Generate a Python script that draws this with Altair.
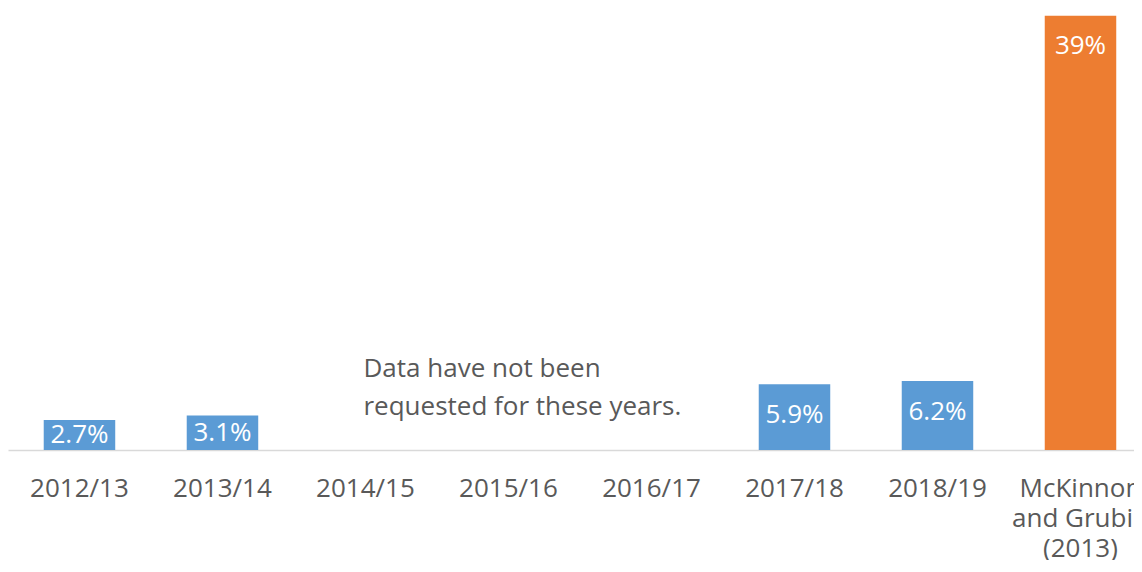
import altair as alt
import pandas as pd

categories = ["2012/13", "2013/14", "2014/15", "2015/16", "2016/17",
              "2017/18", "2018/19", "McKinnon and Grubin (2013)"]
values = [2.7, 3.1, None, None, None, 5.9, 6.2, 39]
labels = ["2.7%", "3.1%", "", "", "", "5.9%", "6.2%", "39%"]
groups = ["survey", "survey", "survey", "survey", "survey", "survey", "survey", "study"]

note_lines = ["Data have not been", "requested for these years."]
note_category = "2014/15"
note_level = 7.3

df = pd.DataFrame({"category": categories, "value": values,
                   "label": labels, "group": groups})
df_bars = df.dropna(subset=["value"])
note_df = pd.DataFrame({"category": [note_category], "level": [note_level],
                        "text": [note_lines]})

FONT = "Open Sans"
GRAY = "#595959"

xscale = alt.Scale(domain=categories, paddingInner=0.5,
                   paddingOuter=0.187, align=0.668)
xaxis = alt.Axis(title=None, labelAngle=0, ticks=False,
                 labelPadding=25, labelFontSize=26, labelFont=FONT,
                 labelColor=GRAY, labelLineHeight=30,
                 labelOverlap=False, labelFlush=False,
                 domainColor="#d9d9d9", domainWidth=1.5,
                 labelExpr="datum.value == 'McKinnon and Grubin (2013)' ? ['McKinnon', 'and Grubin', '(2013)'] : datum.value")


def xenc():
    return alt.X("category:N", scale=xscale, sort=categories, axis=xaxis)


yscale = alt.Scale(domain=[0, 39.7], nice=False, zero=True)

bars = alt.Chart(df_bars).mark_bar().encode(
    x=xenc(),
    y=alt.Y("value:Q", scale=yscale, axis=None),
    color=alt.Color("group:N",
                    scale=alt.Scale(domain=["survey", "study"],
                                    range=["#5b9bd5", "#ed7d31"]),
                    legend=None),
)

value_text = alt.Chart(df_bars).transform_calculate(
    lab_y="max(datum.value - 2.75, datum.value / 2)"
).mark_text(color="white", fontSize=26, font=FONT, baseline="middle").encode(
    x=xenc(),
    y=alt.Y("lab_y:Q", scale=yscale, axis=None),
    text="label:N",
)

note = alt.Chart(note_df).mark_text(
    color=GRAY, fontSize=26, font=FONT, align="left", baseline="middle",
    lineHeight=38, dx=-2
).encode(
    x=xenc(),
    y=alt.Y("level:Q", scale=yscale, axis=None),
    text="text",
)

chart = alt.layer(bars, value_text, note).properties(
    width=1126, height=442,
    autosize=alt.AutoSizeParams(type="none"),
    padding={"left": 0, "top": 0, "right": 0, "bottom": 110},
).configure_view(stroke=None)

chart.save("out.html", embed_options={"renderer": "svg", "actions": False})
